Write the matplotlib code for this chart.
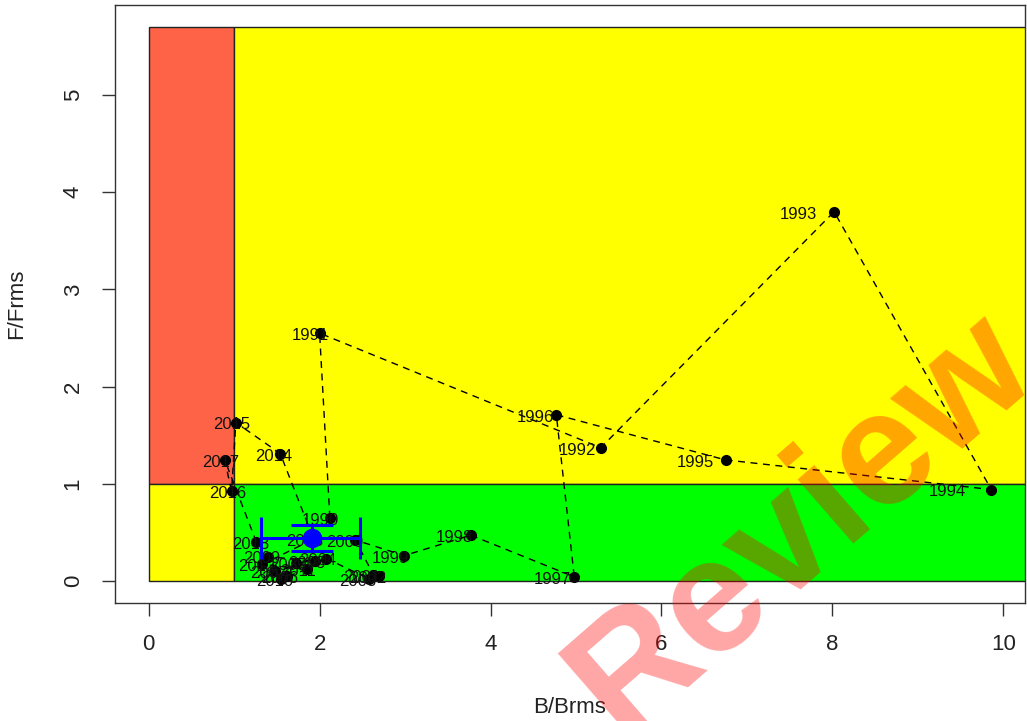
import matplotlib
matplotlib.use("Agg")
import matplotlib.pyplot as plt
from matplotlib.patches import Rectangle

plt.rcParams['font.family'] = ['Liberation Sans', 'DejaVu Sans']

# yearly stock status, B/Bmsy (x) and F/Fmsy (y)
years = list(range(1990, 2019))
b_ratio = [2.12, 2.00, 5.29, 8.02, 9.86, 6.75, 4.77, 4.98, 3.77, 2.99,
           2.42, 2.63, 2.70, 2.58, 2.08, 1.72, 1.62, 1.48, 1.95, 1.40,
           1.55, 1.85, 1.33, 1.93, 1.54, 1.02, 0.97, 0.89, 1.26]
f_ratio = [0.65, 2.55, 1.37, 3.80, 0.94, 1.245, 1.71, 0.04, 0.47, 0.26,
           0.42, 0.06, 0.05, 0.02, 0.23, 0.18, 0.05, 0.10, 0.20, 0.25,
           0.02, 0.12, 0.17, 0.43, 1.31, 1.63, 0.92, 1.245, 0.40]

# summary point with its intervals
mean_b, mean_f = 1.91, 0.44
b_low, b_high = 1.32, 2.47
f_low, f_high = 0.31, 0.57

y_top = 5.70
x_right = 11.0

fig = plt.figure(figsize=(10.27, 7.21), dpi=100)
ax = fig.add_axes([115/1027, 1 - 603/721, 910/1027, 598/721])
ax.set_xlim(-0.394, 10.254)
ax.set_ylim(-0.228, 5.928)

# Kobe quadrants
ax.add_patch(Rectangle((0, 1), 1, y_top - 1, facecolor='#FF6347', edgecolor='#222222', lw=1, zorder=1))
ax.add_patch(Rectangle((0, 0), 1, 1, facecolor='#FFFF00', edgecolor='#222222', lw=1, zorder=1))
ax.add_patch(Rectangle((1, 1), x_right, y_top - 1, facecolor='#FFFF00', edgecolor='#222222', lw=1, zorder=1))
ax.add_patch(Rectangle((1, 0), x_right, 1, facecolor='#00FF00', edgecolor='#222222', lw=1, zorder=1))

ax.plot(b_ratio, f_ratio, color='black', lw=1, ls=(0, (5, 4)), zorder=2)
ax.plot(b_ratio, f_ratio, 'o', color='black', ms=7, zorder=3)

for yr, b, f in zip(years, b_ratio, f_ratio):
    ax.text(b * 0.948, f - 0.025, str(yr), fontsize=12, color='#111111',
            ha='center', va='center', zorder=4)

ax.errorbar([mean_b], [mean_f],
            xerr=[[mean_b - b_low], [b_high - mean_b]],
            yerr=[[mean_f - f_low], [f_high - mean_f]],
            fmt='o', color='blue', ms=13, elinewidth=2.2, capsize=15,
            capthick=2.2, zorder=5)

ax.set_xticks([0, 2, 4, 6, 8, 10])
ax.set_yticks([0, 1, 2, 3, 4, 5])
ax.tick_params(axis='both', direction='out', length=9.5, width=1,
               color='#333333', labelsize=16, labelcolor='#222222', pad=13)
for lab in ax.get_yticklabels():
    lab.set_rotation(90)
    lab.set_va('center')
for sp in ax.spines.values():
    sp.set_color('#333333')
    sp.set_linewidth(1)

ax.set_xlabel('B/Brms', fontsize=16, color='#222222', labelpad=30)
ax.set_ylabel('F/Frms', fontsize=16, color='#222222', labelpad=26)

fig.text(830/1027, 1 - 555/721, 'Review', fontsize=116, fontweight='bold',
         color='red', alpha=0.35, rotation=41, rotation_mode='anchor',
         ha='center', va='baseline', zorder=10)

fig.savefig('out.png', dpi=100)
